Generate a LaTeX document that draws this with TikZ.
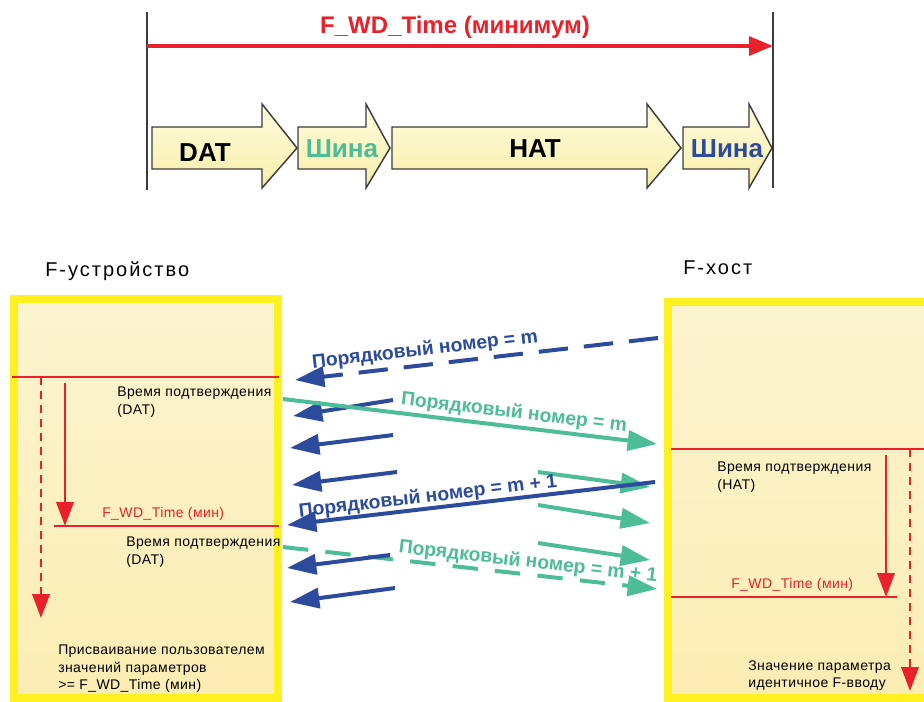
\documentclass[tikz,border=0pt]{standalone}
\usepackage{fontspec}
\setmainfont{Liberation Sans}
\usetikzlibrary{arrows.meta}
\definecolor{cred}{HTML}{E8212A}
\definecolor{cblue}{HTML}{2C4B9C}
\definecolor{cgreen}{HTML}{4DBD98}
\definecolor{cyborder}{HTML}{FFF022}
\definecolor{cbtop}{HTML}{FCF4D0}
\definecolor{cbbot}{HTML}{FBEDB2}
\definecolor{catop}{HTML}{FFFCE0}
\definecolor{cabot}{HTML}{F7EEA8}
\definecolor{cgray}{HTML}{3C3C3C}
\newcommand{\blockarr}[3]{%
  \path[blockarrow] (#1,127) -- (#2,127) -- (#2,104) -- (#3,148) -- (#2,188) -- (#2,169) -- (#1,169) -- cycle;}
\begin{document}
\begin{tikzpicture}[x=0.75pt,y=-0.75pt,
  blockarrow/.style={draw=cgray,line width=1.1pt,top color=catop,bottom color=cabot,line join=miter},
  vline/.style={draw=cgray,line width=1.5pt},
  topred/.style={draw=cred,line width=3pt,-{Triangle[length=18pt,width=14pt]}},
  blocklbl/.style={font=\fontsize{19.5}{22}\selectfont\bfseries,anchor=base,inner sep=0pt},
  devbox/.style={draw=cyborder,line width=6pt,top color=cbtop,bottom color=cbbot},
  header/.style={font=\fontsize{15}{17}\selectfont\addfontfeature{LetterSpace=10},anchor=base west,inner sep=0pt},
  small/.style={font=\fontsize{10.5}{13}\selectfont\addfontfeature{LetterSpace=3},align=left,anchor=north west,inner sep=0pt},
  redlbl/.style={font=\fontsize{10.5}{13}\selectfont\addfontfeature{LetterSpace=3},text=cred,anchor=base west,inner sep=0pt},
  redline/.style={draw=cred,line width=2pt},
  redarr/.style={draw=cred,line width=2pt,-{Triangle[length=18pt,width=13pt]}},
  reddash/.style={redarr,dash pattern=on 6pt off 4.5pt},
  msg/.style={line width=3pt,-{Triangle[length=22pt,width=15pt]}},
  bluemsg/.style={msg,draw=cblue},
  greenmsg/.style={msg,draw=cgreen},
  bluedash/.style={bluemsg,dash pattern=on 22pt off 12pt},
  greendash/.style={greenmsg,dash pattern=on 19pt off 13pt},
  msglbl/.style={font=\fontsize{14.5}{16}\selectfont\bfseries,inner sep=0pt}]
\useasboundingbox (0,0) rectangle (924,701);

% ---------- top time line ----------
\coordinate (v1t) at (147,12); \coordinate (v1b) at (147,190);
\coordinate (v2t) at (773,12); \coordinate (v2b) at (773,188);
\draw[vline] (v1t) -- (v1b);
\draw[vline] (v2t) -- (v2b);
\coordinate (rs) at (147,46); \coordinate (re) at (773,46);
\draw[topred] (rs) -- (re);
\node[font=\fontsize{18}{20}\selectfont\bfseries,text=cred,anchor=base,inner sep=0pt] (ttl) at (455,33) {F\_WD\_Time (минимум)};

\blockarr{152}{262}{297}
\blockarr{298}{366}{390}
\blockarr{392}{647}{681}
\blockarr{683}{749}{772}
\node[blocklbl] (ldat) at (205,161) {DAT};
\node[blocklbl,text=cgreen] (lbus1) at (342,157) {Шина};
\node[blocklbl] (lhat) at (535,157) {HAT};
\node[blocklbl,text=cblue] (lbus2) at (727,157) {Шина};

% ---------- device boxes ----------
\node[header] (hdev) at (45,276) {F-устройство};
\node[header] (hhost) at (683,274) {F-хост};
\path[devbox] (14,299) rectangle (278,698);
\path[devbox] (667.5,302) rectangle (940,698);

% left box internals
\coordinate (la) at (12,377); \coordinate (lb) at (279,377);
\draw[redline] (la) -- (lb);
\coordinate (ld1) at (41,377); \coordinate (ld2) at (41,618);
\draw[reddash] (ld1) -- (ld2);
\coordinate (ls1) at (65,383); \coordinate (ls2) at (65,526);
\draw[redarr] (ls1) -- (ls2);
\coordinate (lc) at (54,526); \coordinate (ld) at (279,526);
\draw[redline] (lc) -- (ld);
\node[small] (tdat1) at (117,387) {Время подтверждения\\(DAT)};
\node[redlbl] (lmin) at (102,517) {F\_WD\_Time (мин)};
\node[small] (tdat2) at (126,537) {Время подтверждения\\(DAT)};
\node[small] (tassign) at (58,645) {Присваивание пользователем\\значений параметров\\>= F\_WD\_Time (мин)};

% right box internals
\coordinate (ra) at (671,449); \coordinate (rb) at (924,449);
\draw[redline] (ra) -- (rb);
\coordinate (rd1) at (910,449); \coordinate (rd2) at (910,691);
\draw[reddash] (rd1) -- (rd2);
\coordinate (rs1) at (886,455); \coordinate (rs2) at (886,597);
\draw[redarr] (rs1) -- (rs2);
\coordinate (rc) at (671,597); \coordinate (rdd) at (897,597);
\draw[redline] (rc) -- (rdd);
\node[small] (thatl) at (717,462) {Время подтверждения\\(HAT)};
\node[redlbl] (rmin) at (731,588) {F\_WD\_Time (мин)};
\node[small] (tval) at (748,660) {Значение параметра\\идентичное F-вводу};

% ---------- messages ----------
\coordinate (bd1s) at (658,338); \coordinate (bd1e) at (295,380);
\coordinate (g1s) at (283,399);  \coordinate (g1e) at (657,444);
\coordinate (b1s) at (393,400);  \coordinate (b1e) at (293,416);
\coordinate (b2s) at (393,435);  \coordinate (b2e) at (290,448);
\coordinate (b3s) at (397,472);  \coordinate (b3e) at (292,485);
\coordinate (gs1s) at (538,472); \coordinate (gs1e) at (650,487);
\coordinate (bls) at (655,482);  \coordinate (ble) at (287,525);
\coordinate (gs2s) at (538,505); \coordinate (gs2e) at (650,523);
\coordinate (gs3s) at (538,543); \coordinate (gs3e) at (650,560);
\coordinate (gds) at (283,547);  \coordinate (gde) at (657,589);
\coordinate (b4s) at (390,555);  \coordinate (b4e) at (287,568);
\coordinate (b5s) at (395,588);  \coordinate (b5e) at (290,602);

\draw[bluedash] (bd1s) -- (bd1e);
\draw[bluemsg] (b1s) -- (b1e);
\draw[greenmsg] (g1s) -- (g1e);
\draw[bluemsg] (b2s) -- (b2e);
\draw[bluemsg] (b3s) -- (b3e);
\draw[greenmsg] (gs1s) -- (gs1e);
\draw[bluemsg] (bls) -- (ble);
\draw[greenmsg] (gs2s) -- (gs2e);
\draw[greenmsg] (gs3s) -- (gs3e);
\draw[greendash] (gds) -- (gde);
\draw[bluemsg] (b4s) -- (b4e);
\draw[bluemsg] (b5s) -- (b5e);

\node[msglbl,text=cblue,rotate=6.6] (mb1) at (425,350) {Порядковый номер = m};
\node[msglbl,text=cgreen,rotate=-6.9] (mg1) at (514,413) {Порядковый номер = m};
\node[msglbl,text=cblue,rotate=6.7] (mb2) at (428,497) {Порядковый номер = m + 1};
\node[msglbl,text=cgreen,rotate=-6.4] (mg2) at (528,562) {Порядковый номер = m + 1};
\end{tikzpicture}
\end{document}
